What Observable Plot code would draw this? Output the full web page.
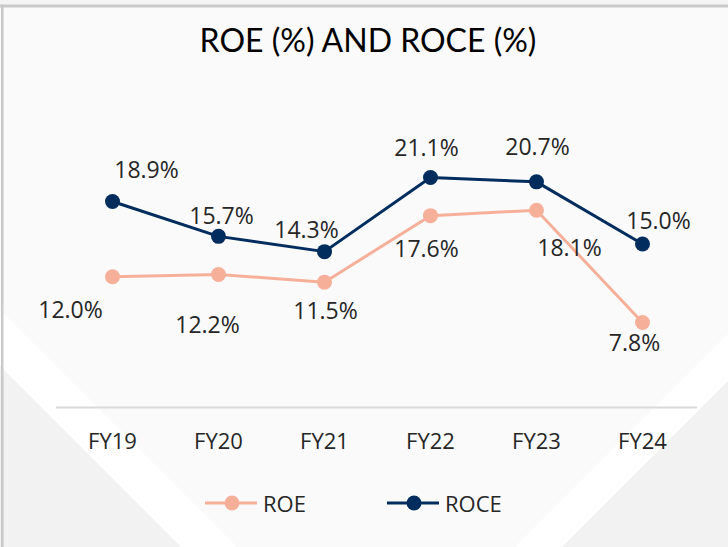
<!DOCTYPE html>
<html>
<head>
<meta charset="utf-8">
<script src="https://cdn.jsdelivr.net/npm/d3@7"></script>
<script src="https://cdn.jsdelivr.net/npm/@observablehq/plot@0.6"></script>
<style>
  html, body { margin: 0; padding: 0; background: #ffffff; }
  #wrap { position: relative; width: 728px; height: 547px; overflow: hidden; background: #fafafa; font-family: "Open Sans", sans-serif; color: #262626; }
  #bg { position: absolute; left: 0; top: 0; }
  #title { position: absolute; left: 4px; top: 22px; width: 728px; height: 36px; line-height: 36px; text-align: center; font-family: Lato, "Open Sans", sans-serif; font-size: 32px; color: #000; }
  #chart { position: absolute; left: 0; top: 0; }
  .leg { position: absolute; top: 490px; display: flex; align-items: center; height: 26px; font-size: 22px; color: #262626; }
  .leg svg { margin-right: 6px; }
</style>
</head>
<body>
<div id="wrap">
  <svg id="bg" width="728" height="547">
    <polygon points="0,310 237,547 0,547" fill="#ffffff"/>
    <polygon points="0,366 181,547 0,547" fill="#f2f2f2"/>
    <polygon points="728,334 728,547 515,547" fill="#ffffff"/>
    <polygon points="728,381 728,547 562,547" fill="#f2f2f2"/>
    <rect x="0" y="0" width="728" height="4.5" fill="#f4f4f4"/>
    <rect x="0" y="4.5" width="728" height="3" fill="#c9c9c9"/>
    <rect x="1" y="4.5" width="2.5" height="543" fill="#c9c9c9"/>
  </svg>
  <div id="title">ROE (%) AND ROCE (%)</div>
  <div id="chart"></div>
  <div class="leg" id="leg0" style="left:205px"></div>
  <div class="leg" id="leg1" style="left:387px"></div>
</div>
<script>
// ---- data ----
const years = ["FY19", "FY20", "FY21", "FY22", "FY23", "FY24"];
const roe = [12.0, 12.2, 11.5, 17.6, 18.1, 7.8];
const roce = [18.9, 15.7, 14.3, 21.1, 20.7, 15.0];
const seriesNames = ["ROE", "ROCE"];
const seriesColors = ["#F6B09A", "#002D5E"];

// label placement offsets (px), per point
const roeLabelOffsets = [[-42, 34], [-11, 51], [1, 29], [-4, 34], [33, 38], [-8, 21]];
const roceLabelOffsets = [[34, -31], [3, -20], [-18, -21], [-4, -29], [1, -34], [16, -22]];

const table = [];
years.forEach((yr, i) => {
  table.push({year: yr, series: "ROE", value: roe[i], off: roeLabelOffsets[i]});
  table.push({year: yr, series: "ROCE", value: roce[i], off: roceLabelOffsets[i]});
});

const labelMarks = table.map(d => Plot.text([d], {
  x: "year", y: "value",
  text: r => r.value.toFixed(1) + "%",
  dx: d.off[0], dy: d.off[1],
  fill: "#262626", fontSize: 23
}));

const chart = Plot.plot({
  width: 728,
  height: 547,
  marginLeft: 56,
  marginRight: 31,
  marginTop: 100,
  marginBottom: 140,
  style: {background: "transparent", fontFamily: "'Open Sans', sans-serif", fontSize: "22px", color: "#262626"},
  x: {type: "point", domain: years, range: [110, 644], padding: 0},
  y: {domain: [0, 25], range: [407, 134.5], axis: null},
  color: {domain: seriesNames, range: seriesColors},
  marks: [
    Plot.ruleY([0], {stroke: "#d9d9d9", strokeWidth: 2}),
    Plot.axisX({tickSize: 0, tickPadding: 26, label: null, fontSize: 22, fill: "#262626"}),
    Plot.line(table, {x: "year", y: "value", z: "series", stroke: "series", strokeWidth: 3}),
    Plot.dot(table, {x: "year", y: "value", fill: "series", r: 7.5}),
    ...labelMarks
  ]
});
document.getElementById("chart").appendChild(chart);

// legend
seriesNames.forEach((name, i) => {
  const el = document.getElementById("leg" + i);
  el.innerHTML = `<svg width="52" height="16"><line x1="0" x2="52" y1="8" y2="8" stroke="${seriesColors[i]}" stroke-width="3"/><circle cx="27" cy="8" r="7.5" fill="${seriesColors[i]}"/></svg><span>${name}</span>`;
});
</script>
</body>
</html>
